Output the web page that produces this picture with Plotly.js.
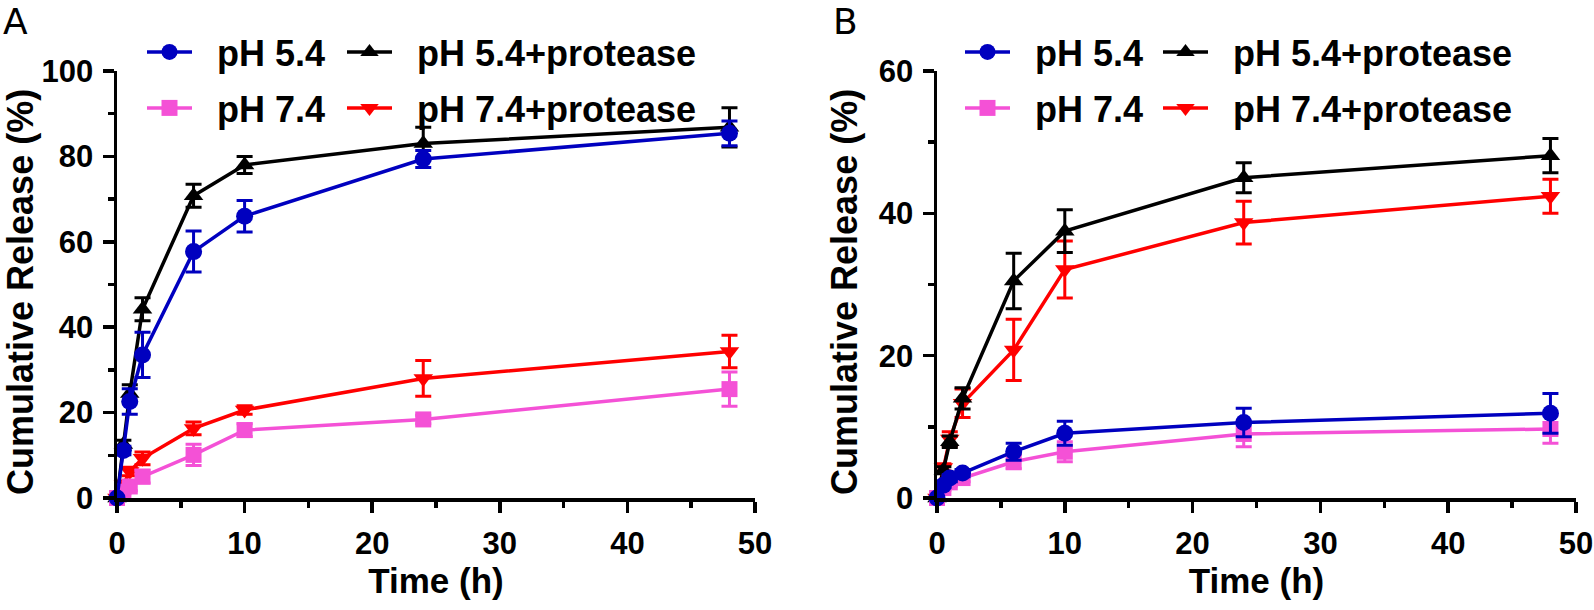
<!DOCTYPE html>
<html>
<head>
<meta charset="utf-8">
<script src="https://cdn.plot.ly/plotly-3.0.1.min.js"></script>
<style>
  html, body { margin: 0; padding: 0; background: #fff; }
  #chart { width: 1594px; height: 610px; }
</style>
</head>
<body>
<div id="chart"></div>
<script>
const timeHours = [0, 0.5, 1, 2, 6, 10, 24, 48];

// panel A
const aPh54 = [0, 11.1, 22.6, 33.5, 57.7, 66.0, 79.4, 85.4];
const aPh54Err = [0, 1.0, 3.0, 5.3, 4.8, 3.7, 2.0, 2.9];
const aPh74 = [0, 1.5, 2.7, 5.0, 10.1, 15.9, 18.4, 25.5];
const aPh74Err = [0, 0.5, 1.0, 1.5, 2.5, 1.5, 1.0, 4.0];
const aPh54Prot = [0, 12.5, 24.5, 44.2, 70.8, 78.0, 83.0, 86.8];
const aPh54ProtErr = [0, 1.0, 2.0, 2.7, 2.7, 2.0, 3.8, 4.6];
const aPh74Prot = [0, 3.2, 6.2, 9.3, 16.3, 20.6, 28.0, 34.3];
const aPh74ProtErr = [0, 0.8, 1.0, 1.5, 1.5, 1.0, 4.2, 3.8];

// panel B
const bPh54 = [0, 1.8, 2.8, 3.5, 6.5, 9.1, 10.6, 11.9];
const bPh54Err = [0, 0.3, 0.5, 0.5, 1.2, 1.7, 2.0, 2.8];
const bPh74 = [0, 1.4, 2.2, 2.8, 5.1, 6.5, 9.0, 9.7];
const bPh74Err = [0, 0.3, 0.5, 0.5, 1.0, 1.4, 1.8, 2.0];
const bPh54Prot = [0, 3.9, 7.9, 14.0, 30.5, 37.5, 45.0, 48.1];
const bPh54ProtErr = [0, 0.5, 0.8, 1.5, 3.9, 3.0, 2.1, 2.4];
const bPh74Prot = [0, 4.3, 8.3, 13.3, 20.8, 32.1, 38.7, 42.4];
const bPh74ProtErr = [0, 0.5, 1.0, 2.0, 4.3, 4.0, 3.0, 2.4];

const FONT = "Liberation Sans, Arial, Helvetica, sans-serif";
const BLUE = "#0000bf";
const PINK = "#f451d6";
const BLACK = "#000000";
const RED = "#ff0000";
const GAP = "\u00a0\u00a0";
const Y_TITLE = "Cumulative Release (%)";

function buildTrace({ y, err, name, color, symbol, axis, legend }) {
  return {
    x: timeHours,
    y,
    name: GAP + name,
    type: "scatter",
    mode: "lines+markers",
    xaxis: "x" + axis,
    yaxis: "y" + axis,
    legend,
    showlegend: true,
    cliponaxis: false,
    line: { color, width: 3.5 },
    marker: { color, symbol, size: symbol === "square" ? 16 : 17 },
    error_y: { type: "data", array: err, visible: true, color, thickness: 3, width: 8 }
  };
}

// later traces are drawn on top: red, black, pink, blue
const traces = [
  buildTrace({ y: aPh74Prot, err: aPh74ProtErr, name: "pH 7.4+protease", color: RED, symbol: "triangle-down", axis: "", legend: "legend5" }),
  buildTrace({ y: aPh54Prot, err: aPh54ProtErr, name: "pH 5.4+protease", color: BLACK, symbol: "triangle-up", axis: "", legend: "legend3" }),
  buildTrace({ y: aPh74, err: aPh74Err, name: "pH 7.4", color: PINK, symbol: "square", axis: "", legend: "legend4" }),
  buildTrace({ y: aPh54, err: aPh54Err, name: "pH 5.4", color: BLUE, symbol: "circle", axis: "", legend: "legend2" }),
  buildTrace({ y: bPh74Prot, err: bPh74ProtErr, name: "pH 7.4+protease", color: RED, symbol: "triangle-down", axis: "2", legend: "legend9" }),
  buildTrace({ y: bPh54Prot, err: bPh54ProtErr, name: "pH 5.4+protease", color: BLACK, symbol: "triangle-up", axis: "2", legend: "legend7" }),
  buildTrace({ y: bPh74, err: bPh74Err, name: "pH 7.4", color: PINK, symbol: "square", axis: "2", legend: "legend8" }),
  buildTrace({ y: bPh54, err: bPh54Err, name: "pH 5.4", color: BLUE, symbol: "circle", axis: "2", legend: "legend6" })
];

function xAxis(domain, anchor) {
  return {
    domain,
    anchor,
    range: [0, 50],
    dtick: 10,
    showline: true,
    linewidth: 3.5,
    linecolor: BLACK,
    ticks: "outside",
    ticklen: 11,
    tickwidth: 3.5,
    tickcolor: BLACK,
    minor: { dtick: 5, ticks: "outside", ticklen: 6, tickwidth: 3.5, tickcolor: BLACK },
    showgrid: false,
    zeroline: false,
    ticklabelstandoff: 4,
    ticklabeloverflow: "allow",
    tickfont: { family: FONT, size: 31, weight: 700, color: BLACK },
    title: { text: "Time (h)", standoff: 6, font: { family: FONT, size: 35, weight: 700, color: BLACK } }
  };
}

function yAxis(domain, anchor, max) {
  return {
    domain,
    anchor,
    range: [0, max],
    dtick: 20,
    showline: true,
    linewidth: 3.5,
    linecolor: BLACK,
    ticks: "outside",
    ticklen: 11,
    tickwidth: 3.5,
    tickcolor: BLACK,
    minor: { dtick: 10, ticks: "outside", ticklen: 6, tickwidth: 3.5, tickcolor: BLACK },
    showgrid: false,
    zeroline: false,
    ticklabelstandoff: 3,
    ticklabeloverflow: "allow",
    tickfont: { family: FONT, size: 31, weight: 700, color: BLACK }
  };
}

function legendAt(px, py) {
  return {
    x: px / 1594,
    y: 1 - py / 610,
    xanchor: "left",
    yanchor: "middle",
    itemwidth: 45,
    bgcolor: "rgba(0,0,0,0)",
    font: { family: FONT, size: 36, weight: 700, color: BLACK }
  };
}

function paperText(text, px, py, font, textangle) {
  return {
    text,
    xref: "paper",
    yref: "paper",
    x: px / 1594,
    y: 1 - py / 610,
    xanchor: "center",
    yanchor: "middle",
    textangle: textangle || 0,
    showarrow: false,
    font
  };
}

const yDomain = [112 / 610, 539 / 610];
const labelFont = { family: "DejaVu Sans, sans-serif", size: 36, color: BLACK };
const yTitleFont = { family: FONT, size: 36, weight: 700, color: BLACK };

const layout = {
  width: 1594,
  height: 610,
  margin: { t: 0, r: 0, b: 0, l: 0 },
  paper_bgcolor: "#fff",
  plot_bgcolor: "#fff",
  showlegend: true,
  xaxis: xAxis([117 / 1594, 755 / 1594], "y"),
  yaxis: yAxis(yDomain, "x", 100),
  xaxis2: xAxis([937 / 1594, 1576 / 1594], "y2"),
  yaxis2: yAxis(yDomain, "x2", 60),
  legend: { visible: false },
  legend2: legendAt(142, 52),
  legend3: legendAt(342, 52),
  legend4: legendAt(142, 108),
  legend5: legendAt(342, 108),
  legend6: legendAt(960, 52),
  legend7: legendAt(1158, 52),
  legend8: legendAt(960, 108),
  legend9: legendAt(1158, 108),
  annotations: [
    paperText("A", 16, 21, labelFont),
    paperText("B", 845, 21, labelFont),
    paperText(Y_TITLE, 20, 292, yTitleFont, -90),
    paperText(Y_TITLE, 844, 292, yTitleFont, -90)
  ]
};

Plotly.newPlot("chart", traces, layout, { staticPlot: true });
</script>
</body>
</html>
